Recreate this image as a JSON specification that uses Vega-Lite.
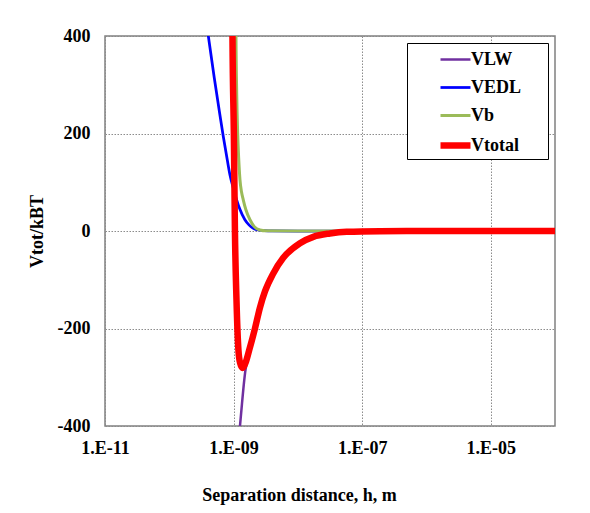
{
  "$schema": "https://vega.github.io/schema/vega-lite/v6.json",
  "width": 450,
  "height": 390,
  "autosize": {"type": "none"},
  "padding": {"left": 105, "top": 36, "right": 35, "bottom": 87},
  "background": "white",
  "config": {
    "font": "Liberation Serif",
    "view": {"stroke": "#808080", "strokeWidth": 1.5}
  },
  "data": {
    "values": [
      {"series": "VLW", "h": 1.15e-9, "v": -465},
      {"series": "VLW", "h": 1.258e-9, "v": -400},
      {"series": "VLW", "h": 1.35e-9, "v": -355},
      {"series": "VLW", "h": 1.466e-9, "v": -306},
      {"series": "VLW", "h": 1.52e-9, "v": -288},
      {"series": "VLW", "h": 1.754e-9, "v": -250},
      {"series": "VLW", "h": 2.152e-9, "v": -203},
      {"series": "VLW", "h": 2.573e-9, "v": -158},
      {"series": "VLW", "h": 3.078e-9, "v": -122},
      {"series": "VLW", "h": 4.143e-9, "v": -88},
      {"series": "VLW", "h": 5.93e-9, "v": -54},
      {"series": "VLW", "h": 1.078e-8, "v": -25},
      {"series": "VLW", "h": 1.74e-8, "v": -12},
      {"series": "VLW", "h": 3.15e-8, "v": -5},
      {"series": "VLW", "h": 5.74e-8, "v": -1.5},
      {"series": "VLW", "h": 1.89e-7, "v": -0.3},
      {"series": "VLW", "h": 1e-6, "v": 0},
      {"series": "VLW", "h": 1e-5, "v": 0},
      {"series": "VLW", "h": 1e-4, "v": 0},

      {"series": "VEDL", "h": 3.5e-10, "v": 460},
      {"series": "VEDL", "h": 4.05e-10, "v": 400},
      {"series": "VEDL", "h": 5e-10, "v": 315},
      {"series": "VEDL", "h": 6e-10, "v": 246},
      {"series": "VEDL", "h": 6.92e-10, "v": 194},
      {"series": "VEDL", "h": 8e-10, "v": 145},
      {"series": "VEDL", "h": 8.79e-10, "v": 115},
      {"series": "VEDL", "h": 1.0e-9, "v": 86},
      {"series": "VEDL", "h": 1.117e-9, "v": 64},
      {"series": "VEDL", "h": 1.25e-9, "v": 45},
      {"series": "VEDL", "h": 1.5e-9, "v": 23},
      {"series": "VEDL", "h": 1.75e-9, "v": 12},
      {"series": "VEDL", "h": 2.0e-9, "v": 6},
      {"series": "VEDL", "h": 2.31e-9, "v": 2.5},
      {"series": "VEDL", "h": 3e-9, "v": 0.6},
      {"series": "VEDL", "h": 4e-9, "v": 0.1},
      {"series": "VEDL", "h": 1e-8, "v": 0},
      {"series": "VEDL", "h": 1e-6, "v": 0},
      {"series": "VEDL", "h": 1e-4, "v": 0},

      {"series": "Vb", "h": 1.07e-9, "v": 700},
      {"series": "Vb", "h": 1.09e-9, "v": 400},
      {"series": "Vb", "h": 1.12e-9, "v": 280},
      {"series": "Vb", "h": 1.158e-9, "v": 200},
      {"series": "Vb", "h": 1.2e-9, "v": 150},
      {"series": "Vb", "h": 1.258e-9, "v": 105},
      {"series": "Vb", "h": 1.33e-9, "v": 80},
      {"series": "Vb", "h": 1.415e-9, "v": 64},
      {"series": "Vb", "h": 1.55e-9, "v": 44},
      {"series": "Vb", "h": 1.8e-9, "v": 23},
      {"series": "Vb", "h": 2.1e-9, "v": 9},
      {"series": "Vb", "h": 2.57e-9, "v": 2},
      {"series": "Vb", "h": 3.2e-9, "v": 0.3},
      {"series": "Vb", "h": 1e-8, "v": 0},
      {"series": "Vb", "h": 1e-6, "v": 0},
      {"series": "Vb", "h": 1e-4, "v": 0},

      {"series": "Vtotal", "h": 9.45e-10, "v": 700},
      {"series": "Vtotal", "h": 9.61e-10, "v": 400},
      {"series": "Vtotal", "h": 1.01e-9, "v": 200},
      {"series": "Vtotal", "h": 1.05e-9, "v": 0},
      {"series": "Vtotal", "h": 1.11e-9, "v": -141},
      {"series": "Vtotal", "h": 1.19e-9, "v": -244},
      {"series": "Vtotal", "h": 1.26e-9, "v": -270},
      {"series": "Vtotal", "h": 1.385e-9, "v": -281},
      {"series": "Vtotal", "h": 1.52e-9, "v": -272},
      {"series": "Vtotal", "h": 1.754e-9, "v": -244},
      {"series": "Vtotal", "h": 2.152e-9, "v": -200},
      {"series": "Vtotal", "h": 2.573e-9, "v": -157},
      {"series": "Vtotal", "h": 3.078e-9, "v": -124},
      {"series": "Vtotal", "h": 4.143e-9, "v": -87},
      {"series": "Vtotal", "h": 5.93e-9, "v": -55},
      {"series": "Vtotal", "h": 1.078e-8, "v": -25},
      {"series": "Vtotal", "h": 1.74e-8, "v": -12},
      {"series": "Vtotal", "h": 3.15e-8, "v": -5},
      {"series": "Vtotal", "h": 5.74e-8, "v": -1.5},
      {"series": "Vtotal", "h": 1.89e-7, "v": -0.3},
      {"series": "Vtotal", "h": 1e-6, "v": 0},
      {"series": "Vtotal", "h": 1e-5, "v": 0},
      {"series": "Vtotal", "h": 1e-4, "v": 0}
    ]
  },
  "mark": {"type": "line", "interpolate": "monotone", "clip": true},
  "encoding": {
    "x": {
      "field": "h",
      "type": "quantitative",
      "scale": {"type": "log", "domain": [1e-11, 1e-4], "nice": false},
      "axis": {
        "values": [1e-11, 1e-9, 1e-7, 1e-5],
        "labelExpr": "datum.value < 5e-11 ? '1.E-11' : datum.value < 5e-9 ? '1.E-09' : datum.value < 5e-7 ? '1.E-07' : '1.E-05'",
        "title": "Separation distance, h, m",
        "grid": true,
        "gridColor": "#8c8c8c",
        "gridDash": [1.5, 1.5],
        "gridWidth": 1,
        "ticks": false,
        "tickSize": 0,
        "domain": false,
        "labelFont": "Liberation Serif",
        "labelFontWeight": "bold",
        "labelFontSize": 18,
        "labelColor": "black",
        "labelPadding": 13,
        "labelFlush": false,
        "labelOverlap": false,
        "titleFont": "Liberation Serif",
        "titleFontWeight": "bold",
        "titleFontSize": 18,
        "titleColor": "black",
        "titleX": 194,
        "titleY": 74,
        "titleAlign": "center",
        "titleBaseline": "alphabetic"
      }
    },
    "y": {
      "field": "v",
      "type": "quantitative",
      "scale": {"domain": [-400, 400], "nice": false, "zero": false},
      "axis": {
        "values": [-400, -200, 0, 200, 400],
        "labelExpr": "'' + datum.value",
        "title": "Vtot/kBT",
        "grid": true,
        "gridColor": "#8c8c8c",
        "gridDash": [1.5, 1.5],
        "gridWidth": 1,
        "ticks": false,
        "tickSize": 0,
        "domain": false,
        "labelFont": "Liberation Serif",
        "labelFontWeight": "bold",
        "labelFontSize": 18,
        "labelColor": "black",
        "labelPadding": 15,
        "labelFlush": false,
        "labelOverlap": false,
        "titleFont": "Liberation Serif",
        "titleFontWeight": "bold",
        "titleFontSize": 18,
        "titleColor": "black",
        "titleX": -68,
        "titleY": 195,
        "titleAngle": -90,
        "titleAlign": "center",
        "titleBaseline": "middle"
      }
    },
    "color": {
      "field": "series",
      "type": "nominal",
      "scale": {"domain": ["VLW", "VEDL", "Vb", "Vtotal"], "range": ["#7030A0", "#0000FF", "#9BBB59", "#FF0000"]},
      "legend": {
        "title": null,
        "orient": "top-right",
        "offset": 7,
        "strokeColor": "black",
        "fillColor": "white",
        "padding": 0,
        "symbolType": "stroke",
        "symbolSize": 900,
        "symbolOffset": 30,
        "labelOffset": -3,
        "rowPadding": 2,
        "labelFont": "Liberation Serif",
        "labelFontWeight": "bold",
        "labelFontSize": 18,
        "labelColor": "black",
        "labelExpr": "datum.label + '\u2800\u2800'"
      }
    },
    "strokeWidth": {
      "field": "series",
      "type": "nominal",
      "scale": {"type": "ordinal", "domain": ["VLW", "VEDL", "Vb", "Vtotal"], "range": [2.5, 2.75, 3, 6.5]},
      "legend": {
        "title": null,
        "orient": "top-right",
        "offset": 7,
        "strokeColor": "black",
        "fillColor": "white",
        "padding": 0,
        "symbolType": "stroke",
        "symbolSize": 900,
        "symbolOffset": 30,
        "labelOffset": -3,
        "rowPadding": 2,
        "labelFont": "Liberation Serif",
        "labelFontWeight": "bold",
        "labelFontSize": 18,
        "labelColor": "black",
        "labelExpr": "datum.label + '\u2800\u2800'"
      }
    }
  }
}
